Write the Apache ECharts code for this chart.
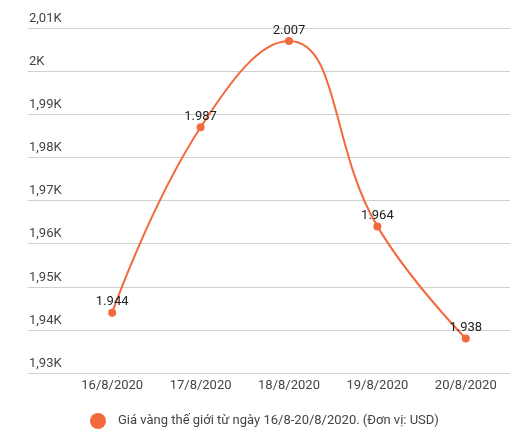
<!DOCTYPE html>
<html>
<head>
<meta charset="utf-8">
<script src="https://cdn.jsdelivr.net/npm/echarts@6/dist/echarts.min.js"></script>
<style>
html,body{margin:0;padding:0;background:#fff;}
#c{width:523px;height:447px;}
</style>
</head>
<body>
<div id="c"></div>
<script>
var categories = ['16/8/2020', '17/8/2020', '18/8/2020', '19/8/2020', '20/8/2020'];
var goldPrice = [1944, 1987, 2007, 1964, 1938];
var seriesName = 'Giá vàng thế giới từ ngày 16/8-20/8/2020. (Đơn vị: USD)';
var yMin = 1930, yMax = 2010, yStep = 10;
var yTickLabels = ['1,93K', '1,94K', '1,95K', '1,96K', '1,97K', '1,98K', '1,99K', '2K', '2,01K'];

var chart = echarts.init(document.getElementById('c'));
var font = 'Roboto, Arial, sans-serif';
chart.setOption({
  animation: false,
  textStyle: { fontFamily: font },
  grid: [
    { left: 28, right: 13, top: 28, bottom: 74 },
    { left: 68, right: 13, top: 28, bottom: 74 }
  ],
  xAxis: [
    { gridIndex: 0, type: 'value', show: false, min: 0, max: 1 },
    {
      gridIndex: 1, type: 'category', data: categories, boundaryGap: true,
      axisLine: { show: false }, axisTick: { show: false },
      axisLabel: { color: '#444', fontSize: 13, margin: 6, fontFamily: font }
    }
  ],
  yAxis: [
    {
      gridIndex: 0, type: 'value', min: yMin, max: yMax, interval: yStep,
      axisLine: { show: false }, axisTick: { show: false },
      splitLine: { lineStyle: { color: '#d0d0d0', width: 1 } },
      axisLabel: {
        inside: true, margin: 1, align: 'left', verticalAlign: 'bottom',
        padding: [0, 0, 3, 0], color: '#444', fontSize: 13, fontFamily: font,
        formatter: function (v) { return yTickLabels[Math.round((v - yMin) / yStep)]; }
      }
    },
    { gridIndex: 1, type: 'value', min: yMin, max: yMax, interval: yStep, show: false, splitLine: { show: false } }
  ],
  legend: {
    bottom: 13, left: 85, icon: 'circle', itemWidth: 30, itemHeight: 16, itemGap: 10,
    textStyle: { color: '#444', fontSize: 13, fontFamily: font },
    data: [seriesName]
  },
  series: [{
    name: seriesName, type: 'line', xAxisIndex: 1, yAxisIndex: 1,
    data: goldPrice, smooth: 0.45, symbol: 'circle', symbolSize: 8,
    itemStyle: { color: '#f4693b' },
    lineStyle: { color: '#f4693b', width: 2 },
    label: {
      show: true, position: 'top', distance: 0, color: '#222', fontSize: 13, fontFamily: font,
      formatter: function (p) { return String(p.value).replace(/\B(?=(\d{3})+(?!\d))/g, '.'); }
    }
  }]
});
</script>
</body>
</html>
